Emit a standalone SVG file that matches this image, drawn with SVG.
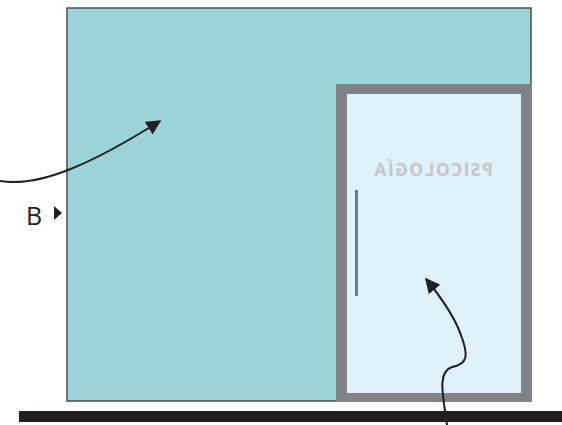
<svg xmlns="http://www.w3.org/2000/svg" width="562" height="425" viewBox="0 0 562 425">
<style>
.lbl{font-family:"Open Sans","Liberation Sans",sans-serif;fill:#231f20}
.sign{font-family:"Open Sans","Liberation Sans",sans-serif;font-weight:bold;fill:#c4c6c8}
.conn{fill:none;stroke:#231f20;stroke-width:2}
</style>
<defs>
<marker id="ah" viewBox="0 0 10 10" refX="9" refY="5" markerWidth="7.5" markerHeight="7.5" orient="auto" markerUnits="strokeWidth">
<path d="M0,0 L10,5 L0,10 Z" fill="#231f20"/>
</marker>
</defs>
<rect width="562" height="425" fill="#ffffff"/>
<g id="wall">
<rect x="67" y="8" width="464" height="393" fill="#9ad4d9" stroke="#4d4d4f" stroke-width="1.5"/>
</g>
<g id="door">
<rect x="336" y="84" width="196" height="318" fill="#808285"/>
<rect x="347" y="94" width="174" height="299" fill="#dff1fb"/>
<rect x="355" y="190" width="3" height="106" fill="#6d7a82"/>
<text class="sign" x="-433" y="176" font-size="17.5" letter-spacing="1.4" text-anchor="middle" transform="scale(-1,1)">PSICOLOGÍA</text>
</g>
<g id="floor">
<rect x="19" y="411" width="543" height="11" fill="#231f20"/>
</g>
<g id="label-b">
<text class="lbl" x="26" y="225" font-size="25">B</text>
<path d="M54,206 L62,213 L54,220 Z" fill="#231f20"/>
</g>
<g id="connectors">
<path class="conn" d="M0,181 C40,188 95,162 160,121" marker-end="url(#ah)"/>
<path class="conn" d="M447,425 C444,400 436,372 452,367 C468,364 468,355 462,338 C455,316 440,296 426,279" marker-end="url(#ah)"/>
</g>
</svg>
